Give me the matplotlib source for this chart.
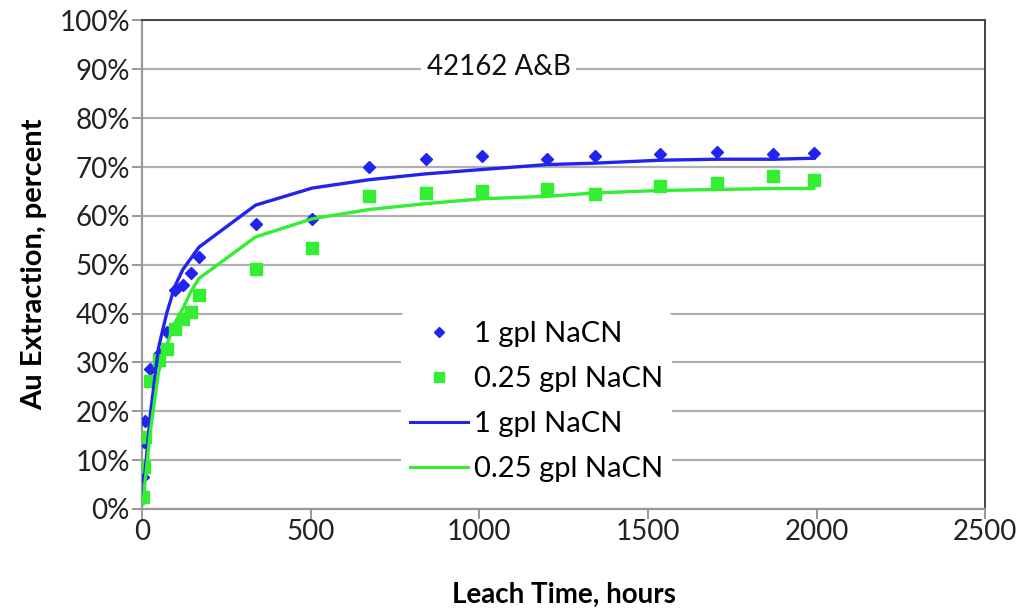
import numpy as np
import matplotlib.pyplot as plt
from matplotlib.lines import Line2D
from matplotlib.ticker import PercentFormatter

# horas de lixiviacion (aprox.)
horas = [2, 4, 8, 24, 48, 72, 96, 120, 144, 168, 336, 504, 672, 840, 1008,
         1200, 1344, 1536, 1704, 1872, 1992]

# extraccion medida (%)
medido_1gpl = [6.6, 13.8, 18.1, 28.7, 31.7, 36.3, 44.8, 45.9, 48.3, 51.6, 58.3,
               59.4, 70.1, 71.7, 72.2, 71.7, 72.2, 72.6, 73.1, 72.6, 72.9]
medido_025gpl = [2.5, 8.5, 14.8, 26.1, 30.4, 32.7, 36.8, 38.9, 40.4, 43.8, 49.2,
                 53.5, 64.1, 64.7, 65.1, 65.6, 64.5, 66.1, 66.8, 68.1, 67.4]

# curvas ajustadas (%)
ajuste_1gpl = [1.5, 3.5, 7.5, 19.5, 33.0, 40.0, 45.5, 49.0, 51.3, 53.6, 62.2,
               65.7, 67.4, 68.6, 69.5, 70.5, 70.8, 71.4, 71.6, 71.6, 71.8]
ajuste_025gpl = [1.0, 2.5, 5.5, 16.0, 28.0, 33.5, 38.0, 41.0, 44.5, 47.2, 55.7,
                 59.4, 61.3, 62.5, 63.5, 64.0, 64.7, 65.2, 65.4, 65.6, 65.6]

etiquetas = ["1 gpl NaCN", "0.25 gpl NaCN"]

AZUL = "#2323f0"
VERDE = "#33ee33"
FUENTE = "Lato"
TAM = 20

plt.rcParams["font.family"] = [FUENTE, "DejaVu Sans"]

fig = plt.figure(figsize=(10.24, 6.10), dpi=100)
ax = fig.add_axes([0.139, 0.1656, 0.823, 0.8008])

x = np.array(horas)
ax.plot(x, np.array(medido_1gpl) / 100, ls="none", marker="D", ms=6.5,
        color=AZUL, zorder=3)
ax.plot(x, np.array(medido_025gpl) / 100, ls="none", marker="s", ms=8,
        color=VERDE, zorder=3)
ax.plot(x, np.array(ajuste_1gpl) / 100, color=AZUL, lw=2.4, zorder=4)
ax.plot(x, np.array(ajuste_025gpl) / 100, color=VERDE, lw=2.4, zorder=4)

ax.set_xlim(0, 2500)
ax.set_ylim(0, 1)
ax.set_xticks(np.arange(0, 2501, 500))
ax.set_yticks(np.arange(0, 1.01, 0.1))
ax.yaxis.set_major_formatter(PercentFormatter(1.0, decimals=0))
ax.grid(axis="y", color="#b0b0b0", lw=1.6, zorder=0)
ax.set_axisbelow(True)

for lado in ["left", "bottom"]:
    ax.spines[lado].set_color("#999999")
    ax.spines[lado].set_linewidth(1.6)
for lado in ["top", "right"]:
    ax.spines[lado].set_color("#444444")
    ax.spines[lado].set_linewidth(1.4)

ax.tick_params(axis="both", direction="out", length=7, width=1.4,
               color="#999999", labelsize=TAM, labelcolor="#222222", pad=2)
ax.tick_params(axis="x", pad=0)

ax.set_xlabel("Leach Time, hours", fontsize=20, fontweight="bold",
              labelpad=27)
ax.set_ylabel("Au Extraction, percent", fontsize=21, fontweight="bold",
              labelpad=9)

ax.text(0.423, 0.905, "42162 A&B", transform=ax.transAxes, fontsize=TAM,
        ha="center", va="center", color="#111111",
        bbox=dict(facecolor="white", edgecolor="none", pad=4), zorder=2)

handles = [
    Line2D([], [], ls="none", marker="D", ms=5.5, color=AZUL),
    Line2D([], [], ls="none", marker="s", ms=6.5, color=VERDE),
    Line2D([], [], color=AZUL, lw=2.2),
    Line2D([], [], color=VERDE, lw=2.2),
]
leg = ax.legend(handles, etiquetas + etiquetas, loc="center",
                bbox_to_anchor=(0.468, 0.22), fontsize=21, frameon=True,
                facecolor="white", edgecolor="none", framealpha=1,
                handlelength=2.0, labelspacing=0.65, handletextpad=0.2,
                borderpad=0.3)
leg.set_zorder(5)

fig.savefig("out.png", dpi=100)
